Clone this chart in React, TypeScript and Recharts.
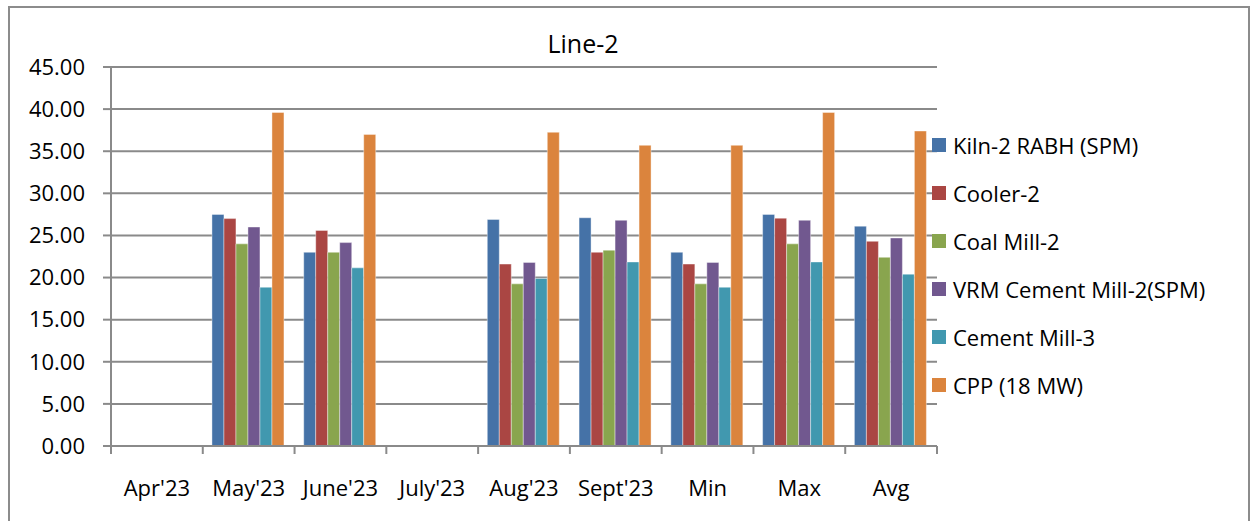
import React from "react";
import { BarChart, Bar, XAxis, YAxis, CartesianGrid } from "recharts";

const categories = ["Apr'23", "May'23", "June'23", "July'23", "Aug'23", "Sept'23", "Min", "Max", "Avg"];

const kiln2 = [null, 27.5, 23.0, null, 26.9, 27.1, 23.0, 27.5, 26.1];
const cooler2 = [null, 27.0, 25.6, null, 21.6, 23.0, 21.6, 27.05, 24.3];
const coalMill2 = [null, 24.0, 23.0, null, 19.25, 23.25, 19.25, 24.0, 22.4];
const vrmMill2 = [null, 26.0, 24.15, null, 21.8, 26.8, 21.8, 26.8, 24.7];
const cementMill3 = [null, 18.85, 21.15, null, 19.9, 21.85, 18.85, 21.85, 20.4];
const cpp = [null, 39.6, 37.0, null, 37.25, 35.7, 35.7, 39.6, 37.4];

const yTicks = [0, 5, 10, 15, 20, 25, 30, 35, 40, 45];

const series = [
  { key: "kiln2", name: "Kiln-2 RABH (SPM)", color: "#4572A7", values: kiln2 },
  { key: "cooler2", name: "Cooler-2", color: "#AA4643", values: cooler2 },
  { key: "coalMill2", name: "Coal Mill-2", color: "#89A54E", values: coalMill2 },
  { key: "vrmMill2", name: "VRM Cement Mill-2(SPM)", color: "#71588F", values: vrmMill2 },
  { key: "cementMill3", name: "Cement Mill-3", color: "#4198AF", values: cementMill3 },
  { key: "cpp", name: "CPP (18 MW)", color: "#DB843D", values: cpp },
];

const data = categories.map((name, i) => {
  const row: Record<string, string | number | null> = { name };
  series.forEach((s) => {
    row[s.key] = s.values[i];
  });
  return row;
});

const W = 1255;
const H = 521;
const margin = { top: 67, right: 318, bottom: 0, left: 0 };
const yAxisWidth = 111;
const band = (W - margin.left - margin.right - yAxisWidth) / categories.length;
const FONT = "'Open Sans', sans-serif";
const FS = 22;
const GRID = "#8a8a8a";

function XTick(props: any) {
  const { x, y, payload, index } = props;
  const left = x - band / 2;
  return (
    <g>
      <line x1={left} x2={left} y1={y} y2={y + 8} stroke={GRID} strokeWidth={2} />
      {index === categories.length - 1 && (
        <line x1={x + band / 2} x2={x + band / 2} y1={y} y2={y + 8} stroke={GRID} strokeWidth={2} />
      )}
      <text x={x} y={y + 44} textAnchor="middle" dominantBaseline="middle" fill="#000" fontSize={FS} fontFamily={FONT}>
        {payload.value}
      </text>
    </g>
  );
}

function LegendBox() {
  return (
    <div style={{ fontFamily: FONT, fontSize: FS, color: "#000" }}>
      {series.map((s) => (
        <div key={s.key} style={{ display: "flex", alignItems: "center", height: 48, whiteSpace: "nowrap" }}>
          <span style={{ width: 14, height: 14, background: s.color, marginRight: 7, display: "inline-block" }} />
          <span>{s.name}</span>
        </div>
      ))}
    </div>
  );
}

export default function App() {
  return (
    <div style={{ position: "fixed", left: 0, top: 0, width: W, height: H, overflow: "hidden", background: "#fff" }}>
      <div
        style={{
          position: "absolute",
          left: 8,
          top: 6,
          width: 1242,
          height: 530,
          border: "2px solid #8c8c8c",
          boxSizing: "border-box",
        }}
      />
      <div
        style={{
          position: "absolute",
          left: 0,
          top: 26,
          width: 1166,
          textAlign: "center",
          fontFamily: FONT,
          fontSize: 25,
          color: "#000",
        }}
      >
        Line-2
      </div>
      <div style={{ position: "absolute", left: 0, top: 0 }}>
        <BarChart width={W} height={H} data={data} margin={margin} barCategoryGap="10%" barGap={0}>
          <CartesianGrid vertical={false} stroke={GRID} strokeWidth={2} />
          <XAxis
            dataKey="name"
            height={75}
            interval={0}
            tickLine={false}
            tickSize={0}
            tickMargin={0}
            axisLine={{ stroke: GRID, strokeWidth: 2 }}
            tick={<XTick />}
          />
          <YAxis
            width={yAxisWidth}
            domain={[0, 45]}
            ticks={yTicks}
            interval={0}
            tickFormatter={(v: number) => v.toFixed(2)}
            tickSize={8}
            tickMargin={18}
            tickLine={{ stroke: GRID, strokeWidth: 2 }}
            axisLine={{ stroke: GRID, strokeWidth: 2 }}
            tick={{ fill: "#000", fontSize: FS, fontFamily: FONT }}
          />
          {series.map((s) => (
            <Bar
              key={s.key}
              dataKey={s.key}
              name={s.name}
              fill={s.color}
              stroke="#ffffff"
              strokeOpacity={0.4}
              strokeWidth={1}
              isAnimationActive={false}
            />
          ))}
        </BarChart>
      </div>
      <div style={{ position: "absolute", left: 932, top: 121 }}>
        <LegendBox />
      </div>
    </div>
  );
}
